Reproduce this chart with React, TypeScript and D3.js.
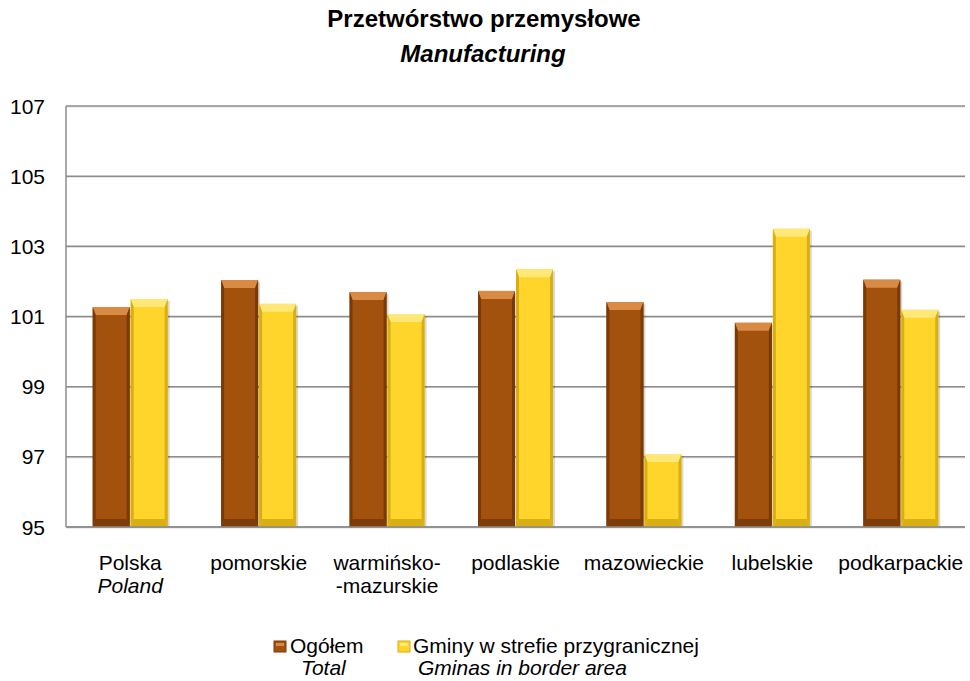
import React from "react";
import * as d3 from "d3";

const categories = ["Polska|Poland", "pomorskie", "warmińsko-|-mazurskie", "podlaskie", "mazowieckie", "lubelskie", "podkarpackie"];
const totalValues = [101.27, 102.04, 101.7, 101.73, 101.41, 100.82, 102.05];
const borderValues = [101.5, 101.36, 101.07, 102.35, 97.08, 103.5, 101.19];
const yTicks = [95, 97, 99, 101, 103, 105, 107];

const W = 970, H = 681;
const M = { left: 66, right: 965, top: 106, bottom: 527 };

const palettes = [
  { main: "#A3520E", top: "#D98A45", side: "#7A3A06", bottom: "#6E3405" },
  { main: "#FFD52B", top: "#FFE878", side: "#D9AE10", bottom: "#C9A00C" },
];

function Bar({ x0, x1, yt, yb, p }: any) {
  const bt = Math.min(8, (yb - yt) / 2), s = 3;
  return (
    <g>
      <rect x={x0 + 2} y={yt + 2} width={x1 - x0} height={yb - yt - 2} fill="#000" opacity={0.15} />
      <rect x={x0} y={yt} width={x1 - x0} height={yb - yt} fill={p.main} />
      <polygon points={`${x0},${yt} ${x1},${yt} ${x1 - s},${yt + bt} ${x0 + s},${yt + bt}`} fill={p.top} />
      <polygon points={`${x0},${yb} ${x1},${yb} ${x1 - s},${yb - bt} ${x0 + s},${yb - bt}`} fill={p.bottom} opacity={0.7} />
      <polygon points={`${x0},${yt} ${x0 + s},${yt + bt} ${x0 + s},${yb - bt} ${x0},${yb}`} fill={p.side} />
      <polygon points={`${x1},${yt} ${x1 - s},${yt + bt} ${x1 - s},${yb - bt} ${x1},${yb}`} fill={p.side} />
    </g>
  );
}

export default function App() {
  const x = d3.scaleBand().domain(categories).range([M.left, M.right]).paddingInner(0).paddingOuter(0);
  const y = d3.scaleLinear().domain([95, 107]).range([M.bottom, M.top]);
  const barW = 37;
  const font = "Liberation Sans, Arial, sans-serif";
  const series = [totalValues, borderValues];
  return (
    <svg width={W} height={H} style={{ position: "absolute", left: 0, top: 0, background: "#fff" }} fontFamily={font}>
      <text x={484} y={27} textAnchor="middle" fontSize={24} fontWeight="bold">Przetwórstwo przemysłowe</text>
      <text x={483} y={62} textAnchor="middle" fontSize={24} fontWeight="bold" fontStyle="italic">Manufacturing</text>
      {yTicks.map((t) => (
        <g key={t}>
          <line x1={M.left} x2={M.right} y1={y(t) + 1} y2={y(t) + 1} stroke="#ddd" strokeWidth={1} />
          <line x1={M.left} x2={M.right} y1={y(t)} y2={y(t)} stroke="#8c8c8c" strokeWidth={1.5} />
          <text x={45} y={y(t) + 7.5} textAnchor="end" fontSize={21}>{t}</text>
        </g>
      ))}
      <line x1={M.left} x2={M.left} y1={M.top} y2={M.bottom} stroke="#8c8c8c" strokeWidth={1.5} />
      {categories.map((c, i) => {
        const cx = x(c)! + x.bandwidth() / 2;
        return (
          <g key={c}>
            {series.map((s, k) => {
              const x0 = k === 0 ? cx - barW - 0.5 : cx + 0.5;
              return <Bar key={k} x0={x0} x1={x0 + barW} yt={y(s[i])} yb={M.bottom} p={palettes[k]} />;
            })}
          </g>
        );
      })}
      <line x1={M.left} x2={M.right} y1={M.bottom} y2={M.bottom} stroke="#8c8c8c" strokeWidth={1.5} />
      {categories.map((c, i) => {
        const cx = x(c)! + x.bandwidth() / 2;
        const parts = c.split("|");
        const italic = i === 0;
        return (
          <g key={c}>
            <text x={cx} y={570} textAnchor="middle" fontSize={21}>{parts[0]}</text>
            {parts[1] && (
              <text x={cx} y={593} textAnchor="middle" fontSize={21} fontStyle={italic ? "italic" : "normal"}>{parts[1]}</text>
            )}
          </g>
        );
      })}
      <g>
        <rect x={274} y={641} width={12} height={11} fill={palettes[0].main} stroke={palettes[0].side} />
        <rect x={276} y={643} width={8} height={3} fill={palettes[0].top} />
        <text x={290} y={653} fontSize={21}>Ogółem</text>
        <text x={301} y={675} fontSize={21} fontStyle="italic">Total</text>
        <rect x={398} y={641} width={12} height={11} fill={palettes[1].main} stroke={palettes[1].side} />
        <rect x={400} y={643} width={8} height={3} fill={palettes[1].top} />
        <text x={413} y={653} fontSize={21}>Gminy w strefie przygranicznej</text>
        <text x={418} y={675} fontSize={21} fontStyle="italic">Gminas in border area</text>
      </g>
    </svg>
  );
}
